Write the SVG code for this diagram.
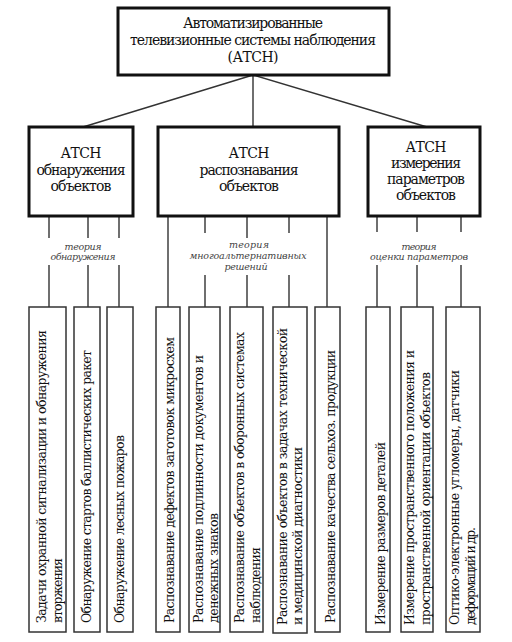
<svg xmlns="http://www.w3.org/2000/svg" width="512" height="642" viewBox="0 0 512 642">
<style>
.bg{fill:#ffffff}
.main{fill:#fff;stroke:#111;stroke-width:3}
.leaf{fill:#fff;stroke:#333;stroke-width:1.5}
.conn{stroke:#333;stroke-width:1.4;fill:none}
.t{font-family:'DejaVu Serif',serif;font-size:14px;fill:#111;text-anchor:middle}
.th{font-family:'DejaVu Serif',serif;font-size:9.5px;font-style:italic;fill:#444;text-anchor:middle}
.v{font-family:'DejaVu Serif',serif;font-size:12.5px;fill:#111}
</style>
<rect class="bg" x="0" y="0" width="512" height="642"/>
<g id="connectors">
<path class="conn" d="M253,75 L83,127 M253,75 L253,127 M253,75 L427,127"/>
<path class="conn" d="M49,216 V238 M49,265 V307 M88,216 V238 M88,265 V307 M119,216 V238 M119,265 V307"/>
<path class="conn" d="M168,216 V307 M205,216 V233 M205,275 V307 M247,216 V238 M247,275 V307 M289,216 V233 M289,275 V307 M327,216 V307"/>
<path class="conn" d="M377,216 V232 M377,265 V307 M417,216 V232 M417,265 V307 M461,216 V232 M461,265 V307"/>
</g>
<g id="root">
<rect class="main" x="118" y="8" width="271" height="67"/>
<text class="t" x="253" y="28" textLength="140">Автоматизированные</text>
<text class="t" x="253" y="45" textLength="246">телевизионные системы наблюдения</text>
<text class="t" x="253" y="62" textLength="51">(АТСН)</text>
</g>
<g id="detect">
<rect class="main" x="29" y="127" width="104" height="89"/>
<text class="t" x="81" y="158" textLength="41">АТСН</text>
<text class="t" x="81" y="175" textLength="89">обнаружения</text>
<text class="t" x="81" y="191" textLength="61">объектов</text>
</g>
<g id="recog">
<rect class="main" x="158" y="127" width="181" height="89"/>
<text class="t" x="249" y="158" textLength="41">АТСН</text>
<text class="t" x="249" y="175" textLength="99">распознавания</text>
<text class="t" x="249" y="191" textLength="60">объектов</text>
</g>
<g id="measure">
<rect class="main" x="368" y="127" width="112" height="89"/>
<text class="t" x="426" y="152" textLength="41">АТСН</text>
<text class="t" x="426" y="168" textLength="70">измерения</text>
<text class="t" x="426" y="184" textLength="78">параметров</text>
<text class="t" x="426" y="200" textLength="60">объектов</text>
</g>
<g id="theory-detect">
<text class="th" x="83" y="250" textLength="37">теория</text>
<text class="th" x="83" y="260" textLength="65">обнаружения</text>
</g>
<g id="theory-recog">
<text class="th" x="249" y="248" textLength="40">теория</text>
<text class="th" x="248" y="259" textLength="117">многоальтернативных</text>
<text class="th" x="246" y="270" textLength="43">решений</text>
</g>
<g id="theory-measure">
<text class="th" x="419" y="250" textLength="35">теория</text>
<text class="th" x="419" y="260" textLength="98">оценки параметров</text>
</g>
<g id="leaf1">
<rect class="leaf" x="29" y="307" width="37" height="325"/>
<text class="v" transform="translate(46,623) rotate(-90)" textLength="293">Задачи охранной сигнализации и обнаружения</text>
<text class="v" transform="translate(62,623) rotate(-90)" textLength="65">вторжения</text>
</g>
<g id="leaf2">
<rect class="leaf" x="74" y="307" width="26" height="325"/>
<text class="v" transform="translate(91,623) rotate(-90)" textLength="273">Обнаружение стартов баллистических ракет</text>
</g>
<g id="leaf3">
<rect class="leaf" x="107" y="307" width="26" height="325"/>
<text class="v" transform="translate(124,623) rotate(-90)" textLength="188">Обнаружение лесных пожаров</text>
</g>
<g id="leaf4">
<rect class="leaf" x="156" y="307" width="24" height="325"/>
<text class="v" transform="translate(174,623) rotate(-90)" textLength="286">Распознавание дефектов заготовок микросхем</text>
</g>
<g id="leaf5">
<rect class="leaf" x="189" y="307" width="31" height="325"/>
<text class="v" transform="translate(203,623) rotate(-90)" textLength="268">Распознавание подлинности документов и</text>
<text class="v" transform="translate(218,623) rotate(-90)" textLength="110">денежных знаков</text>
</g>
<g id="leaf6">
<rect class="leaf" x="230" y="307" width="33" height="325"/>
<text class="v" transform="translate(244,623) rotate(-90)" textLength="291">Распознавание объектов в оборонных системах</text>
<text class="v" transform="translate(260,623) rotate(-90)" textLength="76">наблюдения</text>
</g>
<g id="leaf7">
<rect class="leaf" x="273" y="307" width="34" height="326"/>
<text class="v" transform="translate(287,625) rotate(-90)" textLength="297">Распознавание объектов в задачах технической</text>
<text class="v" transform="translate(302,625) rotate(-90)" textLength="178">и медицинской диагностики</text>
</g>
<g id="leaf8">
<rect class="leaf" x="315" y="307" width="25" height="325"/>
<text class="v" transform="translate(335,623) rotate(-90)" textLength="273">Распознавание качества сельхоз. продукции</text>
</g>
<g id="leaf9">
<rect class="leaf" x="366" y="307" width="24" height="325"/>
<text class="v" transform="translate(385,625) rotate(-90)" textLength="183">Измерение размеров деталей</text>
</g>
<g id="leaf10">
<rect class="leaf" x="401" y="307" width="32" height="325"/>
<text class="v" transform="translate(414,625) rotate(-90)" textLength="275">Измерение пространственного положения и</text>
<text class="v" transform="translate(430,625) rotate(-90)" textLength="253">пространственной ориентации объектов</text>
</g>
<g id="leaf11">
<rect class="leaf" x="446" y="307" width="34" height="325"/>
<text class="v" transform="translate(459,625) rotate(-90)" textLength="255">Оптико-электронные угломеры, датчики</text>
<text class="v" transform="translate(475,625) rotate(-90)" textLength="98">деформаций и др.</text>
</g>
</svg>
